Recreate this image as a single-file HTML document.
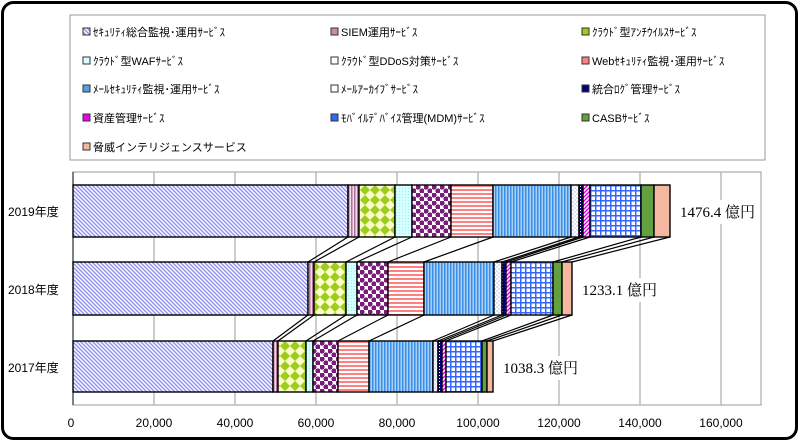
<!DOCTYPE html>
<html><head><meta charset="utf-8"><style>
html,body{margin:0;padding:0;background:#fff;}
svg{display:block;}
text{font-family:"Liberation Sans","Noto Sans CJK JP",sans-serif;}
</style></head><body>
<svg width="800" height="442" viewBox="0 0 800 442" xmlns="http://www.w3.org/2000/svg">
<defs>
<pattern id="p1" width="4" height="4" patternUnits="userSpaceOnUse"><rect width="4" height="4" fill="#fff"/><path d="M-1,-1 L5,5 M-1,3 L1,5 M3,-1 L5,1" stroke="#8f8fee" stroke-width="1.4"/></pattern>
<pattern id="p2" width="3" height="4" patternUnits="userSpaceOnUse"><rect width="3" height="4" fill="#f2dcec"/><rect width="1.5" height="4" fill="#b0709a"/></pattern>
<pattern id="p3" width="10" height="10" patternUnits="userSpaceOnUse"><rect width="10" height="10" fill="#fbfbc8"/><path d="M5,0 L10,5 L5,10 L0,5Z" fill="#9ccc1c"/></pattern>
<pattern id="p4" width="3" height="3" patternUnits="userSpaceOnUse"><rect width="3" height="3" fill="#d8ffff"/><rect width="1" height="1" fill="#9ee"/></pattern>
<pattern id="p5" width="8" height="8" patternUnits="userSpaceOnUse"><rect width="8" height="8" fill="#fff"/><circle cx="2" cy="2" r="2.6" fill="#7a1a7a"/><circle cx="6" cy="6" r="2.6" fill="#7a1a7a"/></pattern>
<pattern id="p6" width="4" height="4" patternUnits="userSpaceOnUse"><rect width="4" height="4" fill="#fff"/><rect width="4" height="2" fill="#ff8080"/></pattern>
<pattern id="p7" width="3" height="4" patternUnits="userSpaceOnUse"><rect width="3" height="4" fill="#a8d0f8"/><rect width="1.5" height="4" fill="#3a8ee6"/></pattern>
<pattern id="p8" width="4" height="4" patternUnits="userSpaceOnUse"><rect width="4" height="4" fill="#fff"/><circle cx="1" cy="1" r="0.8" fill="#bbbbee"/><circle cx="3" cy="3" r="0.8" fill="#bbbbee"/></pattern>
<pattern id="p9" width="3" height="3" patternUnits="userSpaceOnUse"><rect width="3" height="3" fill="#000080"/><rect x="1" y="1" width="1" height="1" fill="#fff"/></pattern>
<pattern id="p10" width="4" height="4" patternUnits="userSpaceOnUse"><rect width="4" height="4" fill="#fff"/><path d="M-1,5 L5,-1 M-1,1 L1,-1 M3,5 L5,3" stroke="#ee00ee" stroke-width="1.5"/></pattern>
<pattern id="p11" width="5" height="5" patternUnits="userSpaceOnUse"><rect width="5" height="5" fill="#fff"/><rect width="5" height="1.5" fill="#3366ff"/><rect width="1.5" height="5" fill="#3366ff"/></pattern>
</defs>
<rect x="2.5" y="2.5" width="794" height="436" rx="11" fill="#fff" stroke="#000" stroke-width="3"/>
<!-- legend -->
<rect x="70" y="15" width="695" height="145" fill="#fff" stroke="#999" stroke-width="1"/>
<g font-size="11" fill="#000">
<g transform="translate(83,32)"><rect x="0" y="-4" width="7" height="7" fill="url(#p1)" stroke="#333"/><text x="10" y="4">ｾｷｭﾘﾃｨ総合監視･運用ｻｰﾋﾞｽ</text></g>
<g transform="translate(331,32)"><rect x="0" y="-4" width="7" height="7" fill="#c88ab4" stroke="#333"/><text x="10" y="4">SIEM運用ｻｰﾋﾞｽ</text></g>
<g transform="translate(582,32)"><rect x="0" y="-4" width="7" height="7" fill="#9ccc1c" stroke="#333"/><text x="10" y="4">ｸﾗｳﾄﾞ型ｱﾝﾁｳｲﾙｽｻｰﾋﾞｽ</text></g>
<g transform="translate(83,61)"><rect x="0" y="-4" width="7" height="7" fill="#d8ffff" stroke="#333"/><text x="10" y="4">ｸﾗｳﾄﾞ型WAFｻｰﾋﾞｽ</text></g>
<g transform="translate(331,61)"><rect x="0" y="-4" width="7" height="7" fill="#fff" stroke="#333"/><text x="10" y="4">ｸﾗｳﾄﾞ型DDoS対策ｻｰﾋﾞｽ</text></g>
<g transform="translate(582,61)"><rect x="0" y="-4" width="7" height="7" fill="#ff8080" stroke="#333"/><text x="10" y="4">Webｾｷｭﾘﾃｨ監視･運用ｻｰﾋﾞｽ</text></g>
<g transform="translate(83,89)"><rect x="0" y="-4" width="7" height="7" fill="#5a9ee6" stroke="#333"/><text x="10" y="4">ﾒｰﾙｾｷｭﾘﾃｨ監視･運用ｻｰﾋﾞｽ</text></g>
<g transform="translate(331,89)"><rect x="0" y="-4" width="7" height="7" fill="#fff" stroke="#333"/><text x="10" y="4">ﾒｰﾙｱｰｶｲﾌﾞｻｰﾋﾞｽ</text></g>
<g transform="translate(582,89)"><rect x="0" y="-4" width="7" height="7" fill="#000080" stroke="#333"/><text x="10" y="4">統合ﾛｸﾞ管理ｻｰﾋﾞｽ</text></g>
<g transform="translate(83,118)"><rect x="0" y="-4" width="7" height="7" fill="#ee00ee" stroke="#333"/><text x="10" y="4">資産管理ｻｰﾋﾞｽ</text></g>
<g transform="translate(331,118)"><rect x="0" y="-4" width="7" height="7" fill="#3366ff" stroke="#333"/><text x="10" y="4">ﾓﾊﾞｲﾙﾃﾞﾊﾞｲｽ管理(MDM)ｻｰﾋﾞｽ</text></g>
<g transform="translate(582,118)"><rect x="0" y="-4" width="7" height="7" fill="#62a040" stroke="#333"/><text x="10" y="4">CASBｻｰﾋﾞｽ</text></g>
<g transform="translate(83,147)"><rect x="0" y="-4" width="7" height="7" fill="#f4b8a0" stroke="#333"/><text x="10" y="4">脅威インテリジェンスサービス</text></g>
</g>
<!-- plot area -->
<rect x="73" y="172" width="688" height="233" fill="#fff" stroke="#999" stroke-width="1"/>
<g stroke="#b0b0b0" stroke-width="1.3">
<line x1="154" y1="172" x2="154" y2="405"/><line x1="235" y1="172" x2="235" y2="405"/>
<line x1="316" y1="172" x2="316" y2="405"/><line x1="397" y1="172" x2="397" y2="405"/>
<line x1="478" y1="172" x2="478" y2="405"/><line x1="559" y1="172" x2="559" y2="405"/>
<line x1="640" y1="172" x2="640" y2="405"/><line x1="721" y1="172" x2="721" y2="405"/>
</g>
<line x1="73" y1="172" x2="73" y2="405" stroke="#000" stroke-width="1"/>
<!-- series lines -->
<g stroke="#000" stroke-width="1.2">
<line x1="348" y1="237" x2="308" y2="262"/><line x1="359" y1="237" x2="314" y2="262"/><line x1="395" y1="237" x2="346" y2="262"/><line x1="412" y1="237" x2="357" y2="262"/><line x1="451" y1="237" x2="388" y2="262"/><line x1="493" y1="237" x2="424" y2="262"/><line x1="571" y1="237" x2="494" y2="262"/><line x1="579" y1="237" x2="502" y2="262"/><line x1="583" y1="237" x2="506" y2="262"/><line x1="590" y1="237" x2="511" y2="262"/><line x1="641" y1="237" x2="553" y2="262"/><line x1="654" y1="237" x2="562" y2="262"/><line x1="670" y1="237" x2="572" y2="262"/>
<line x1="308" y1="315" x2="273" y2="341"/><line x1="314" y1="315" x2="278" y2="341"/><line x1="346" y1="315" x2="306" y2="341"/><line x1="357" y1="315" x2="313" y2="341"/><line x1="388" y1="315" x2="338" y2="341"/><line x1="424" y1="315" x2="369" y2="341"/><line x1="494" y1="315" x2="433" y2="341"/><line x1="502" y1="315" x2="438" y2="341"/><line x1="506" y1="315" x2="442" y2="341"/><line x1="511" y1="315" x2="446" y2="341"/><line x1="553" y1="315" x2="482" y2="341"/><line x1="562" y1="315" x2="487" y2="341"/><line x1="572" y1="315" x2="493" y2="341"/>
</g>
<!-- bars -->
<g stroke="#000" stroke-width="1.4">
<g transform="translate(0,185)">
<rect x="73" width="275" height="52" fill="url(#p1)"/><rect x="348" width="11" height="52" fill="url(#p2)"/><rect x="359" width="36" height="52" fill="url(#p3)"/><rect x="395" width="17" height="52" fill="url(#p4)"/><rect x="412" width="39" height="52" fill="url(#p5)"/><rect x="451" width="42" height="52" fill="url(#p6)"/><rect x="493" width="78" height="52" fill="url(#p7)"/><rect x="571" width="8" height="52" fill="url(#p8)"/><rect x="579" width="4" height="52" fill="url(#p9)"/><rect x="583" width="7" height="52" fill="url(#p10)"/><rect x="590" width="51" height="52" fill="url(#p11)"/><rect x="641" width="13" height="52" fill="#62a040"/><rect x="654" width="16" height="52" fill="#f4b8a0"/>
</g>
<g transform="translate(0,262)">
<rect x="73" width="235" height="53" fill="url(#p1)"/><rect x="308" width="6" height="53" fill="url(#p2)"/><rect x="314" width="32" height="53" fill="url(#p3)"/><rect x="346" width="11" height="53" fill="url(#p4)"/><rect x="357" width="31" height="53" fill="url(#p5)"/><rect x="388" width="36" height="53" fill="url(#p6)"/><rect x="424" width="70" height="53" fill="url(#p7)"/><rect x="494" width="8" height="53" fill="url(#p8)"/><rect x="502" width="4" height="53" fill="url(#p9)"/><rect x="506" width="5" height="53" fill="url(#p10)"/><rect x="511" width="42" height="53" fill="url(#p11)"/><rect x="553" width="9" height="53" fill="#62a040"/><rect x="562" width="10" height="53" fill="#f4b8a0"/>
</g>
<g transform="translate(0,341)">
<rect x="73" width="200" height="51" fill="url(#p1)"/><rect x="273" width="5" height="51" fill="url(#p2)"/><rect x="278" width="28" height="51" fill="url(#p3)"/><rect x="306" width="7" height="51" fill="url(#p4)"/><rect x="313" width="25" height="51" fill="url(#p5)"/><rect x="338" width="31" height="51" fill="url(#p6)"/><rect x="369" width="64" height="51" fill="url(#p7)"/><rect x="433" width="5" height="51" fill="url(#p8)"/><rect x="438" width="4" height="51" fill="url(#p9)"/><rect x="442" width="4" height="51" fill="url(#p10)"/><rect x="446" width="36" height="51" fill="url(#p11)"/><rect x="482" width="5" height="51" fill="#62a040"/><rect x="487" width="6" height="51" fill="#f4b8a0"/>
</g>
</g>
<!-- value labels -->
<g font-family="Liberation Serif,Noto Serif CJK SC,serif" font-size="15" fill="#000">
<rect x="678" y="200" width="80" height="24" fill="#fff"/>
<text x="680" y="217" style="font-family:'Liberation Serif','Noto Serif CJK SC',serif">1476.4 億円</text>
<rect x="580" y="278" width="80" height="24" fill="#fff"/>
<text x="582" y="295" style="font-family:'Liberation Serif','Noto Serif CJK SC',serif">1233.1 億円</text>
<rect x="501" y="356" width="80" height="24" fill="#fff"/>
<text x="503" y="373" style="font-family:'Liberation Serif','Noto Serif CJK SC',serif">1038.3 億円</text>
</g>
<!-- axis labels -->
<g font-size="12" fill="#000">
<text x="8" y="216">2019年度</text>
<text x="8" y="294">2018年度</text>
<text x="8" y="372">2017年度</text>
</g>
<g font-size="12" fill="#000" text-anchor="middle">
<text x="71" y="427">0</text><text x="154" y="427">20,000</text><text x="235" y="427">40,000</text><text x="316" y="427">60,000</text><text x="397" y="427">80,000</text><text x="478" y="427">100,000</text><text x="559" y="427">120,000</text><text x="640" y="427">140,000</text><text x="721" y="427">160,000</text>
</g>
</svg>
</body></html>
